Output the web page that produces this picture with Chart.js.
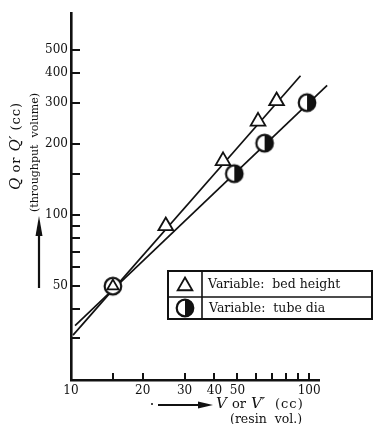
<!DOCTYPE html>
<html><head><meta charset="utf-8">
<script src="https://cdn.jsdelivr.net/npm/chart.js@4"></script>
<style>html,body{margin:0;padding:0;background:#fff}</style>
</head><body>
<canvas id="c" width="375" height="424" style="display:block;width:375px;height:424px"></canvas>
<script>
// ---- data ----
const bedHeightV = [15, 25, 43.5, 61, 73];
const bedHeightQ = [50, 90, 170, 250, 305];
const tubeDiaV = [15, 48.5, 65, 98];
const tubeDiaQ = [50, 150, 202, 300];
const bedFitV = [10.2, 92];
const bedFitQ = [31, 390];
const tubeFitV = [10.4, 119];
const tubeFitQ = [34, 355];
const xTickValues = [10, 15, 20, 30, 40, 50, 60, 70, 80, 90, 100];
const xTickLabels = ['10', '', '20', '30', '40', '50', '', '', '', '', '100'];
const yTickValues = [30, 40, 50, 60, 70, 80, 90, 100, 150, 200, 300, 400, 500];
const yTickLabels = ['', '', '50', '', '', '', '', '100', '', '200', '300', '400', '500'];
const legendLabels = ['Variable:  bed height', 'Variable:  tube dia'];

const INK = '#111';
const SERIF = '"DejaVu Serif", "Liberation Serif", serif';

function makeCircleImg(half) {
  const c = document.createElement('canvas');
  c.width = 22; c.height = 22;
  const g = c.getContext('2d');
  g.beginPath(); g.arc(11, 11, 8.3, 0, Math.PI * 2); g.fillStyle = '#fff'; g.fill();
  if (half) {
    g.beginPath(); g.moveTo(11, 2.7); g.arc(11, 11, 8.3, -Math.PI / 2, Math.PI / 2); g.closePath();
    g.fillStyle = INK; g.fill();
  }
  g.beginPath(); g.arc(11, 11, 8.3, 0, Math.PI * 2); g.lineWidth = 2.2; g.strokeStyle = INK; g.stroke();
  return c;
}
const halfImg = makeCircleImg(true);
const openImg = makeCircleImg(false);

const toPts = (xs, ys) => xs.map((x, i) => ({x, y: ys[i]}));

const axisTicksPlugin = {
  id: 'axisTicks',
  beforeDatasetsDraw(chart) {
    const {ctx, chartArea: a, scales: {x, y}} = chart;
    ctx.save();
    ctx.strokeStyle = INK; ctx.lineWidth = 2;
    yTickValues.forEach(v => {
      const py = Math.round(y.getPixelForValue(v));
      ctx.beginPath(); ctx.moveTo(a.left, py); ctx.lineTo(a.left + 9, py); ctx.stroke();
    });
    xTickValues.slice(1).forEach(v => {
      const px = Math.round(x.getPixelForValue(v));
      ctx.beginPath(); ctx.moveTo(px, a.bottom); ctx.lineTo(px, a.bottom - 7); ctx.stroke();
    });
    ctx.restore();
  }
};

function drawSegs(ctx, segs, x, y) {
  let cx = x;
  segs.forEach(s => {
    ctx.font = s.f;
    ctx.letterSpacing = s.ls || '0px';
    ctx.fillText(s.t, cx, y);
    cx += ctx.measureText(s.t).width;
  });
  ctx.letterSpacing = '0px';
}

const annotPlugin = {
  id: 'annot',
  afterDraw(chart) {
    const ctx = chart.ctx;
    ctx.save();
    ctx.fillStyle = INK; ctx.strokeStyle = INK;
    // legend table
    ctx.lineWidth = 2;
    ctx.strokeRect(168, 271, 204, 48);
    ctx.lineWidth = 1.6;
    ctx.beginPath(); ctx.moveTo(168, 297); ctx.lineTo(372, 297); ctx.stroke();
    ctx.beginPath(); ctx.moveTo(202, 271); ctx.lineTo(202, 319); ctx.stroke();
    // triangle marker
    ctx.save();
    ctx.fillStyle = '#fff'; ctx.strokeStyle = INK; ctx.lineWidth = 1.8;
    Chart.helpers.drawPoint(ctx, {pointStyle: 'triangle', radius: 8.5, borderWidth: 1.8, rotation: 0},
      185, 286);
    ctx.restore();
    ctx.drawImage(halfImg, 185 - 11, 308 - 11);
    ctx.fillStyle = INK;
    ctx.font = '12.5px ' + SERIF;
    ctx.textBaseline = 'alphabetic';
    ctx.textAlign = 'left';
    ctx.fillText(legendLabels[0], 208, 288);
    ctx.fillText(legendLabels[1], 209, 312);

    // y title (rotated)
    ctx.save();
    ctx.translate(20, 190);
    ctx.rotate(-Math.PI / 2);
    ctx.textBaseline = 'alphabetic';
    drawSegs(ctx, [
      {t: 'Q', f: 'italic 15px ' + SERIF},
      {t: ' or ', f: '13px ' + SERIF, ls: '1px'},
      {t: 'Q′', f: 'italic 15px ' + SERIF},
      {t: ' (cc)', f: '13px ' + SERIF, ls: '1px'}
    ], 0, 0);
    ctx.restore();
    ctx.save();
    ctx.translate(38, 212);
    ctx.rotate(-Math.PI / 2);
    ctx.font = '11px ' + SERIF;
    ctx.fillText('(throughput  volume)', 0, 0);
    ctx.restore();

    // y arrow
    ctx.lineWidth = 2.2;
    ctx.beginPath(); ctx.moveTo(39, 288); ctx.lineTo(39, 230); ctx.stroke();
    ctx.beginPath(); ctx.moveTo(39, 216); ctx.lineTo(42.5, 236); ctx.lineTo(35.5, 236); ctx.closePath(); ctx.fill();

    // x arrow
    ctx.beginPath(); ctx.moveTo(158, 405); ctx.lineTo(202, 405); ctx.stroke();
    ctx.beginPath(); ctx.moveTo(213, 405); ctx.lineTo(198, 401.5); ctx.lineTo(198, 408.5); ctx.closePath(); ctx.fill();
    ctx.beginPath(); ctx.arc(152, 404, 1, 0, Math.PI * 2); ctx.fill();

    // x title
    ctx.textBaseline = 'alphabetic';
    drawSegs(ctx, [{t: 'V', f: 'italic 15px ' + SERIF}], 216, 408);
    drawSegs(ctx, [{t: 'or', f: '13px ' + SERIF}], 232, 408);
    drawSegs(ctx, [{t: 'V′', f: 'italic 15px ' + SERIF}], 251, 408);
    drawSegs(ctx, [{t: '(cc)', f: '13px ' + SERIF, ls: '1px'}], 275, 408);
    ctx.font = '12.5px ' + SERIF;
    ctx.fillText('(resin  vol.)', 230, 423);
    ctx.restore();
  }
};

new Chart(document.getElementById('c'), {
  type: 'scatter',
  data: {
    datasets: [
      {
        label: 'Variable: bed height',
        data: toPts(bedHeightV, bedHeightQ),
        pointStyle: 'triangle',
        pointRadius: bedHeightV.map((v, i) => i === 0 ? 6.5 : 8.5),
        pointBackgroundColor: '#fff',
        pointBorderColor: INK,
        pointBorderWidth: 1.8,
        clip: false
      },
      {
        label: 'Variable: tube dia',
        data: toPts(tubeDiaV, tubeDiaQ),
        pointStyle: tubeDiaV.map((v, i) => i === 0 ? openImg : halfImg),
        pointRadius: 9,
        clip: false
      },
      {
        label: 'bed fit',
        data: toPts(bedFitV, bedFitQ),
        showLine: true, pointRadius: 0, borderColor: INK, borderWidth: 1.7, clip: false
      },
      {
        label: 'tube fit',
        data: toPts(tubeFitV, tubeFitQ),
        showLine: true, pointRadius: 0, borderColor: INK, borderWidth: 1.7, clip: false
      }
    ]
  },
  options: {
    responsive: false,
    animation: false,
    devicePixelRatio: 1,
    layout: {padding: {top: 13, right: 56, left: 0, bottom: 0}},
    plugins: {legend: {display: false}, tooltip: {enabled: false}},
    scales: {
      x: {
        type: 'logarithmic', position: 'bottom', min: 10, max: 110,
        grid: {display: false, drawTicks: false},
        border: {display: true, color: INK, width: 2.6},
        afterBuildTicks: s => { s.ticks = xTickValues.map(v => ({value: v})); },
        afterFit: s => { s.height = 44; s.paddingLeft = 0; s.paddingRight = 0; },
        ticks: {
          autoSkip: false, maxRotation: 0, minRotation: 0, padding: 4, color: INK,
          font: {family: SERIF, size: 12},
          callback: v => { const i = xTickValues.indexOf(v); return i >= 0 ? xTickLabels[i] : ''; }
        }
      },
      y: {
        type: 'logarithmic', position: 'left', min: 20, max: 720,
        grid: {display: false, drawTicks: false},
        border: {display: true, color: INK, width: 2.6},
        afterBuildTicks: s => { s.ticks = yTickValues.map(v => ({value: v})); },
        afterFit: s => { s.width = 71; s.paddingTop = 0; s.paddingBottom = 0; },
        ticks: {
          autoSkip: false, padding: 3, color: INK,
          font: {family: SERIF, size: 12},
          callback: v => { const i = yTickValues.indexOf(v); return i >= 0 ? yTickLabels[i] : ''; }
        }
      }
    }
  },
  plugins: [axisTicksPlugin, annotPlugin]
});
</script>
</body></html>
